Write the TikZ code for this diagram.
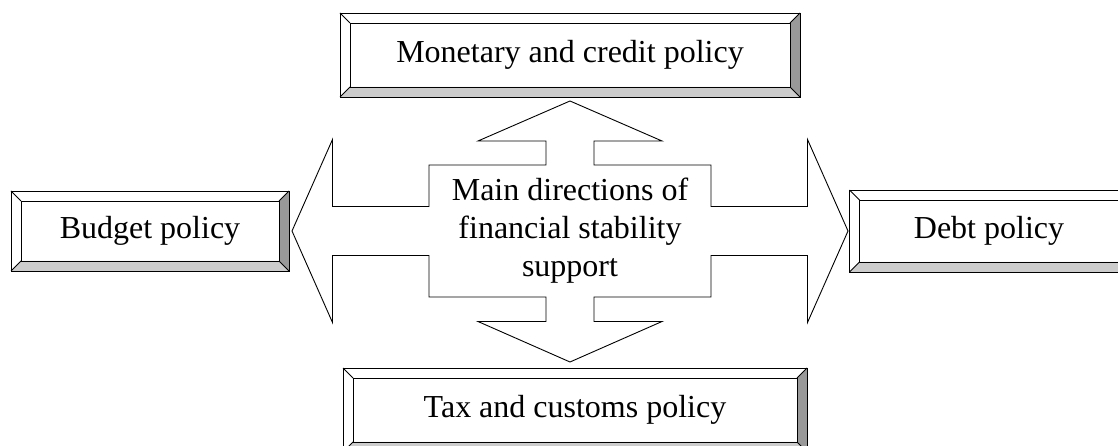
\documentclass[tikz,border=0pt]{standalone}
\usepackage{fontspec}
\setmainfont{Liberation Serif}

\definecolor{bevellight}{HTML}{CCCCCC}
\definecolor{beveldark}{HTML}{999999}

\tikzset{
  policy/.style={shape=rectangle, draw, outer sep=0pt, inner sep=0pt, font=\fontsize{32}{38}\selectfont},
  bigarrow/.style={draw, line join=miter},
}

% raised frame round a policy node
\newcommand{\bevelframe}[1]{%
  \fill[beveldark] (#1.north east) -- ([shift={(10,10)}]#1.north east) -- ([shift={(10,-10)}]#1.south east) -- (#1.south east) -- cycle;
  \fill[bevellight] (#1.south west) -- ([shift={(-10,-10)}]#1.south west) -- ([shift={(10,-10)}]#1.south east) -- (#1.south east) -- cycle;
  \draw ([shift={(-10,10)}]#1.north west) rectangle ([shift={(10,-10)}]#1.south east);
  \draw ([shift={(-10,10)}]#1.north west) -- (#1.north west);
  \draw ([shift={(10,10)}]#1.north east) -- (#1.north east);
  \draw ([shift={(-10,-10)}]#1.south west) -- (#1.south west);
  \draw ([shift={(10,-10)}]#1.south east) -- (#1.south east);
  \draw (#1.north west) rectangle (#1.south east);
}

\begin{document}
\begin{tikzpicture}[x=1pt, y=1pt, line width=0.9pt]
\path[use as bounding box, clip] (0,0) rectangle (1118,446);

\node [align=center, font=\fontsize{32}{38}\selectfont] (main) at (570,215) {Main directions of\\financial stability\\support};

\begin{scope}[shift={(main.center)}]
\draw[bigarrow] (0,130) -- (92,90) -- (24,90) -- (24,66) -- (141,66) -- (141,24.5) -- (237.5,24.5) -- (237.5,91.5)
  -- (278,0) -- (237.5,-91.5) -- (237.5,-24.5) -- (141,-24.5) -- (141,-66) -- (24,-66) -- (24,-90.5) -- (92,-90.5)
  -- (0,-131) -- (-92,-90.5) -- (-24,-90.5) -- (-24,-66) -- (-141,-66) -- (-141,-24.5) -- (-237.5,-24.5) -- (-237.5,-91.5)
  -- (-278,0) -- (-237.5,91.5) -- (-237.5,24.5) -- (-141,24.5) -- (-141,66) -- (-24,66) -- (-24,90) -- (-92,90) -- cycle;
\end{scope}

\node [policy, above of=main, node distance=176pt, minimum width=440pt, minimum height=64pt] (monetary) {Monetary and credit policy};
\node [policy, below of=main, node distance=179pt, xshift=5pt, minimum width=444pt, minimum height=64pt] (tax) {Tax and customs policy};
\node [policy, left of=main, node distance=420pt, minimum width=258pt, minimum height=60pt] (budget) {Budget policy};
\node [policy, right of=main, node distance=419pt, minimum width=259pt, minimum height=62pt] (debt) {Debt policy};

\bevelframe{monetary}
\bevelframe{tax}
\bevelframe{budget}
\bevelframe{debt}
\end{tikzpicture}
\end{document}
